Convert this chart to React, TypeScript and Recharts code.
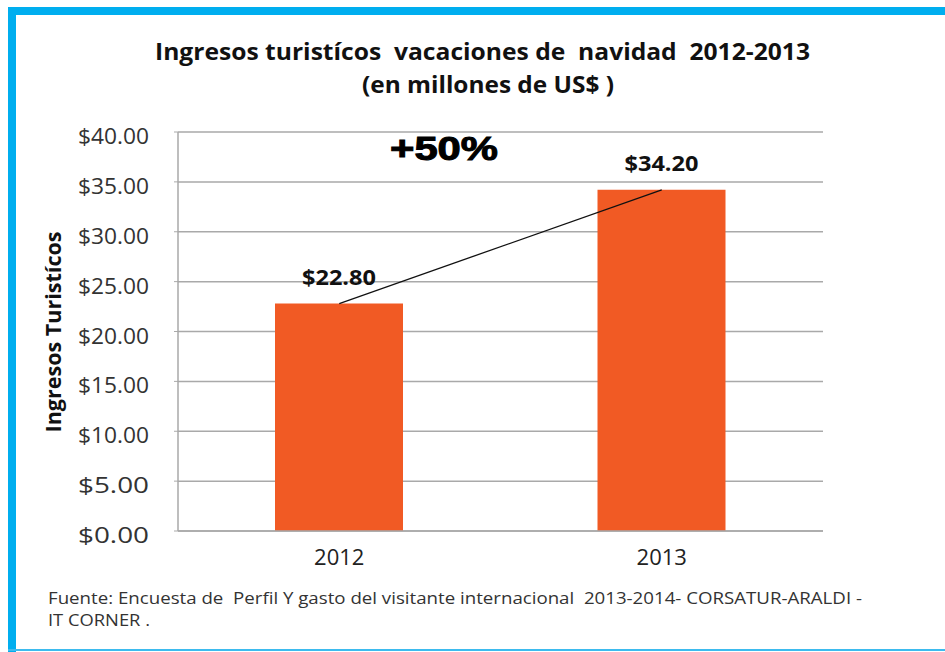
import React from "react";
import {
  ComposedChart,
  Bar,
  Line,
  XAxis,
  YAxis,
  CartesianGrid,
  LabelList,
} from "recharts";

const years = ["2012", "2013"];
const ingresos = [22.8, 34.2];
const yTicks = [0, 5, 10, 15, 20, 25, 30, 35, 40];

const titleLine1 = "Ingresos turistícos  vacaciones de  navidad  2012-2013";
const titleLine2 = "(en millones de US$ )";
const growthLabel = "+50%";
const yLabel = "Ingresos Turistícos";
const source1 =
  "Fuente: Encuesta de  Perfil Y gasto del visitante internacional  2013-2014- CORSATUR-ARALDI -";
const source2 = "IT CORNER .";

const data = years.map((y, i) => ({ year: y, value: ingresos[i] }));

const FONT = "'Open Sans', 'Noto Sans', sans-serif";
const fmt = (v: number) => `$${v.toFixed(2)}`;

const YTick = (props: any) => {
  const { x, y, payload } = props;
  return (
    <text
      x={x}
      y={y}
      dy={12}
      textAnchor="end"
      fontFamily={FONT}
      fontSize={22}
      fill="#333"
      textLength={71}
      lengthAdjust="spacingAndGlyphs"
    >
      {fmt(payload.value)}
    </text>
  );
};

const XTick = (props: any) => {
  const { x, y, payload } = props;
  return (
    <text
      x={x}
      y={y}
      dy={26}
      textAnchor="middle"
      fontFamily={FONT}
      fontSize={22}
      fill="#222"
    >
      {payload.value}
    </text>
  );
};

const BarLabel = (props: any) => {
  const { x, y, width, value } = props;
  return (
    <text
      x={x + width / 2}
      y={y - 19}
      textAnchor="middle"
      fontFamily={FONT}
      fontWeight={700}
      fontSize={21}
      fill="#111"
      textLength={74}
      lengthAdjust="spacingAndGlyphs"
    >
      {fmt(value)}
    </text>
  );
};

export default function App() {
  return (
    <div
      style={{
        position: "absolute",
        left: 0,
        top: 0,
        width: 945,
        height: 652,
        background: "#fff",
        overflow: "hidden",
      }}
    >
      <ComposedChart
        width={945}
        height={652}
        data={data}
        margin={{ top: 132, right: 122, bottom: 81, left: 0 }}
      >
        <CartesianGrid
          vertical={false}
          stroke="#a9a9a9"
          strokeWidth={1.5}
        />
        <XAxis
          dataKey="year"
          height={40}
          axisLine={{ stroke: "#a9a9a9", strokeWidth: 1.5 }}
          tickLine={false}
          tick={<XTick />}
        />
        <YAxis
          width={178}
          domain={[0, 40]}
          ticks={yTicks}
          interval={0}
          axisLine={{ stroke: "#a9a9a9", strokeWidth: 1.5 }}
          tickLine={{ stroke: "#a9a9a9" }}
          tickSize={4}
          tickMargin={25}
          tick={<YTick />}
        />
        <Bar
          dataKey="value"
          fill="#F15A24"
          barSize={128}
          isAnimationActive={false}
        >
          <LabelList dataKey="value" content={<BarLabel />} />
        </Bar>
        <Line
          dataKey="value"
          type="linear"
          stroke="#111"
          strokeWidth={1.3}
          dot={false}
          activeDot={false}
          isAnimationActive={false}
        />
      </ComposedChart>

      <svg
        width={945}
        height={652}
        style={{ position: "absolute", left: 0, top: 0, pointerEvents: "none" }}
      >
        <rect x={8} y={7} width={937} height={8} fill="#00AEEF" />
        <rect x={8} y={7} width={8} height={645} fill="#00AEEF" />
        <rect x={8} y={649} width={937} height={2} fill="#3dbbee" />

        <text
          x={155}
          y={60}
          fontFamily={FONT}
          fontWeight={700}
          fontSize={24}
          fill="#111"
          textLength={655}
          lengthAdjust="spacingAndGlyphs"
          style={{ whiteSpace: "pre" }}
        >
          {titleLine1}
        </text>
        <text
          x={362}
          y={93}
          fontFamily={FONT}
          fontWeight={700}
          fontSize={24}
          fill="#111"
          textLength={252}
          lengthAdjust="spacingAndGlyphs"
          style={{ whiteSpace: "pre" }}
        >
          {titleLine2}
        </text>

        <text
          x={390}
          y={160}
          fontFamily="'Liberation Sans', Arial, sans-serif"
          fontWeight={900}
          fontSize={33}
          fill="#000"
          stroke="#000"
          strokeWidth={1}
          textLength={108}
          lengthAdjust="spacingAndGlyphs"
        >
          {growthLabel}
        </text>

        <text
          transform="translate(61, 332) rotate(-90)"
          x={0}
          y={0}
          textAnchor="middle"
          fontFamily={FONT}
          fontWeight={700}
          fontSize={21}
          fill="#111"
          textLength={201}
          lengthAdjust="spacingAndGlyphs"
        >
          {yLabel}
        </text>

        <text
          x={48}
          y={604}
          fontFamily={FONT}
          fontSize={17}
          fill="#333"
          textLength={814}
          lengthAdjust="spacingAndGlyphs"
          style={{ whiteSpace: "pre" }}
        >
          {source1}
        </text>
        <text
          x={48}
          y={626}
          fontFamily={FONT}
          fontSize={17}
          fill="#333"
          textLength={102}
          lengthAdjust="spacingAndGlyphs"
          style={{ whiteSpace: "pre" }}
        >
          {source2}
        </text>
      </svg>
    </div>
  );
}
